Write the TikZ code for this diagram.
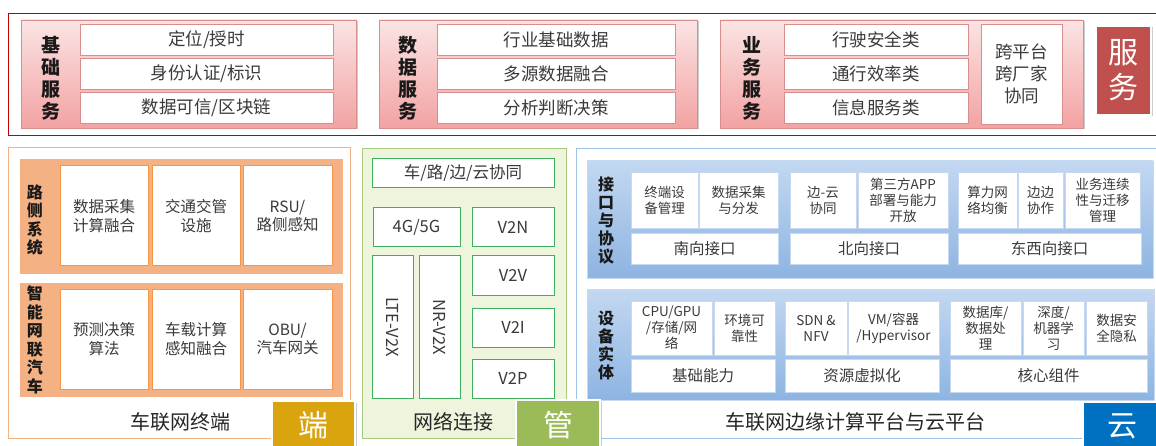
\documentclass[tikz,border=0pt]{standalone}
\usepackage{fontspec}
\setmainfont{Noto Sans CJK SC}
\usetikzlibrary{shadows}

\definecolor{fwred}{HTML}{C00000}
\definecolor{pinktop}{HTML}{FBE4E4}
\definecolor{pinkbot}{HTML}{F3A2A2}
\definecolor{pinkline}{HTML}{D98E8E}
\definecolor{fwdark}{HTML}{C0504D}
\definecolor{orgline}{HTML}{F79646}
\definecolor{orgfill}{HTML}{F4B183}
\definecolor{orgframe}{HTML}{F4B183}
\definecolor{duangold}{HTML}{D9A40E}
\definecolor{grnfill}{HTML}{EDF6DC}
\definecolor{grnframe}{HTML}{A8C97F}
\definecolor{grnline}{HTML}{3FAF5F}
\definecolor{guangrn}{HTML}{9BBB59}
\definecolor{bluframe}{HTML}{9DC3E6}
\definecolor{blutop}{HTML}{C3D8F1}
\definecolor{blubot}{HTML}{8DB4E2}
\definecolor{bluline}{HTML}{C6D9F1}
\definecolor{yunblue}{HTML}{0070C0}
\definecolor{txt}{HTML}{3A3A3A}

\tikzset{
    redframe/.style={draw=fwred, line width=0.8pt},
    pinkgrp/.style={draw=pinkline, line width=0.8pt, top color=pinktop, bottom color=pinkbot,
        drop shadow={shadow xshift=1.5pt, shadow yshift=-1.5pt, fill=black!40, opacity=.5}},
    pinkcell/.style={draw=pinkline, line width=0.8pt, fill=white},
    rowtxt/.style={text=txt, font=\fontsize{17.5}{21}\selectfont, align=center, inner sep=0pt},
    grplbl/.style={text=black!90, font=\bfseries\fontsize{19}{22}\selectfont, align=center, inner sep=0pt},
    tagbox/.style={draw=white, line width=1.5pt,
        drop shadow={shadow xshift=1.5pt, shadow yshift=-1.5pt, fill=black!40, opacity=.5}},
    tagtxt/.style={text=white, font=\fontsize{30}{35}\selectfont, align=center, inner sep=0pt},
    ocell/.style={draw=orgline, line width=1pt, fill=white},
    otxt/.style={text=txt, font=\fontsize{15.5}{18.5}\selectfont, align=center, inner sep=0pt},
    olbl/.style={text=black!90, font=\bfseries\fontsize{16}{18.5}\selectfont, align=center, inner sep=0pt},
    gcell/.style={draw=grnline, line width=1pt, fill=white},
    gtxt/.style={text=txt, font=\fontsize{16.5}{19}\selectfont, inner sep=0pt},
    bband/.style={draw=bluline, line width=0.8pt, top color=blutop, bottom color=blubot},
    bcell/.style={draw=bluline, line width=0.8pt, fill=white},
    btxt/.style={text=txt, font=\fontsize{13.5}{16}\selectfont, align=center, inner sep=0pt},
    bsub/.style={text=txt, font=\fontsize{15.5}{19}\selectfont, inner sep=0pt},
    blbl/.style={text=black!90, font=\bfseries\fontsize{16}{18}\selectfont, align=center, inner sep=0pt},
    foot/.style={text=black!85, font=\fontsize{20}{24}\selectfont, inner sep=0pt}
}

\begin{document}
\begin{tikzpicture}[x=1pt, y=-1pt]
    \useasboundingbox (0,0) rectangle (1156,446);

    \draw[redframe] (8,13) rectangle (1162,135);

    \filldraw[pinkgrp] (21,20) rectangle (356,128);
    \node[grplbl] (jcfw) at (51,78) {基\\础\\服\\务};
    \filldraw[pinkcell] (80,24) rectangle node[rowtxt] (dwss) {定位/授时} (333,55);
    \filldraw[pinkcell] (80,58) rectangle node[rowtxt] (sfrz) {身份认证/标识} (333,89);
    \filldraw[pinkcell] (80,92) rectangle node[rowtxt] (sjkx) {数据可信/区块链} (333,123);

    \filldraw[pinkgrp] (379,20) rectangle (697,128);
    \node[grplbl] (sjfw) at (408,78) {数\\据\\服\\务};
    \filldraw[pinkcell] (437,24) rectangle node[rowtxt] (hyjc) {行业基础数据} (675,55);
    \filldraw[pinkcell] (437,58) rectangle node[rowtxt] (dysj) {多源数据融合} (675,89);
    \filldraw[pinkcell] (437,92) rectangle node[rowtxt] (fxpd) {分析判断决策} (675,123);

    \filldraw[pinkgrp] (720,20) rectangle (1083,128);
    \node[grplbl] (ywfw) at (752,78) {业\\务\\服\\务};
    \filldraw[pinkcell] (784,24) rectangle node[rowtxt] (xsaq) {行驶安全类} (968,55);
    \filldraw[pinkcell] (784,58) rectangle node[rowtxt] (txxl) {通行效率类} (968,89);
    \filldraw[pinkcell] (784,92) rectangle node[rowtxt] (xxfw) {信息服务类} (968,123);
    \filldraw[pinkcell] (981,24) rectangle node[rowtxt, font=\fontsize{17.5}{22}\selectfont] (kpt) {跨平台\\跨厂家\\协同} (1062,124);

    \filldraw[tagbox, fill=fwdark] (1096,26) rectangle node[tagtxt] (fw) {服\\务} (1151,115);

    \filldraw[draw=orgframe, line width=1pt, fill=white] (8,148) rectangle (350,438);
    \fill[orgfill] (20,159) rectangle (343,274);
    \fill[orgfill] (20,283) rectangle (343,397);
    \node[olbl] (lcxt) at (35,220) {路\\侧\\系\\统};
    \node[olbl] (znwl) at (35,340) {智\\能\\网\\联\\汽\\车};
    \filldraw[ocell] (60,166) rectangle node[otxt] (sjcj) {数据采集\\计算融合} (148,266);
    \filldraw[ocell] (152,166) rectangle node[otxt] (jtjg) {交通交管\\设施} (240,266);
    \filldraw[ocell] (243,166) rectangle node[otxt] (rsu) {RSU/\\路侧感知} (332,266);
    \filldraw[ocell] (60,289) rectangle node[otxt] (ycjc) {预测决策\\算法} (148,389);
    \filldraw[ocell] (152,289) rectangle node[otxt] (czjs) {车载计算\\感知融合} (240,389);
    \filldraw[ocell] (243,289) rectangle node[otxt] (obu) {OBU/\\汽车网关} (332,389);
    \node[foot] (clwzd) at (180,422) {车联网终端};

    \filldraw[draw=grnframe, line width=1pt, fill=grnfill] (362,149) rectangle (566,438);
    \filldraw[gcell] (372,159) rectangle node[gtxt] (xtong) {车/路/边/云协同} (554,188);
    \filldraw[gcell] (373,208) rectangle node[gtxt] (g45) {4G/5G} (460,247);
    \filldraw[gcell] (472,208) rectangle node[gtxt] (v2n) {V2N} (554,247);
    \filldraw[gcell] (372,256) rectangle node[gtxt, rotate=-90] (ltev) {LTE-V2X} (413,398);
    \filldraw[gcell] (419,256) rectangle node[gtxt, rotate=-90] (nrv) {NR-V2X} (460,398);
    \filldraw[gcell] (472,256) rectangle node[gtxt] (v2v) {V2V} (554,295);
    \filldraw[gcell] (472,308) rectangle node[gtxt] (v2i) {V2I} (554,347);
    \filldraw[gcell] (472,359) rectangle node[gtxt] (v2p) {V2P} (554,398);
    \node[foot] (wllj) at (453,422) {网络连接};

    \filldraw[draw=bluframe, line width=1pt, fill=white] (576,149) rectangle (1162,438);
    \filldraw[bband] (587,161) rectangle (1153,278);
    \filldraw[bband] (587,289) rectangle (1154,400);
    \node[blbl] (jkxy) at (606,221) {接\\口\\与\\协\\议};
    \node[blbl] (sbst) at (606,345) {设\\备\\实\\体};

    \filldraw[bcell] (631,172) rectangle node[btxt] (zdsb) {终端设\\备管理} (698,228);
    \filldraw[bcell] (699,172) rectangle node[btxt] (cjff) {数据采集\\与分发} (778,228);
    \filldraw[bcell] (631,233) rectangle node[bsub] (nxjk) {南向接口} (778,264);
    \filldraw[bcell] (790,172) rectangle node[btxt] (byxt) {边-云\\协同} (856,228);
    \filldraw[bcell] (858,172) rectangle node[btxt] (dsf) {第三方APP\\部署与能力\\开放} (948,228);
    \filldraw[bcell] (790,233) rectangle node[bsub] (bxjk) {北向接口} (948,264);
    \filldraw[bcell] (958,172) rectangle node[btxt] (slwl) {算力网\\络均衡} (1017,228);
    \filldraw[bcell] (1018,172) rectangle node[btxt] (bbxz) {边边\\协作} (1063,228);
    \filldraw[bcell] (1065,172) rectangle node[btxt] (ywlx) {业务连续\\性与迁移\\管理} (1140,228);
    \filldraw[bcell] (958,233) rectangle node[bsub] (dxjk) {东西向接口} (1141,264);

    \filldraw[bcell] (631,301) rectangle node[btxt] (cpu) {CPU/GPU\\/存储/网\\络} (712,355);
    \filldraw[bcell] (714,301) rectangle node[btxt] (hjkk) {环境可\\靠性} (775,355);
    \filldraw[bcell] (631,359) rectangle node[bsub] (jcnl) {基础能力} (775,392);
    \filldraw[bcell] (785,301) rectangle node[btxt] (sdn) {SDN \&\\NFV} (847,355);
    \filldraw[bcell] (848,301) rectangle node[btxt] (vm) {VM/容器\\/Hypervisor} (939,355);
    \filldraw[bcell] (785,359) rectangle node[bsub] (zyxn) {资源虚拟化} (939,392);
    \filldraw[bcell] (950,301) rectangle node[btxt] (sjk) {数据库/\\数据处\\理} (1021,355);
    \filldraw[bcell] (1023,301) rectangle node[btxt] (sdxx) {深度/\\机器学\\习} (1084,355);
    \filldraw[bcell] (1086,301) rectangle node[btxt] (sjaq) {数据安\\全隐私} (1147,355);
    \filldraw[bcell] (950,359) rectangle node[bsub] (hxzj) {核心组件} (1147,392);
    \node[foot] (bypt) at (855,422) {车联网边缘计算平台与云平台};

    \filldraw[tagbox, fill=duangold] (272,401) rectangle node[tagtxt] (duan) {端} (355,450);
    \filldraw[tagbox, fill=guangrn] (516,400) rectangle node[tagtxt] (guan) {管} (600,450);
    \filldraw[tagbox, fill=yunblue] (1083,402) rectangle node[tagtxt] (yun) {云} (1162,450);
\end{tikzpicture}
\end{document}
